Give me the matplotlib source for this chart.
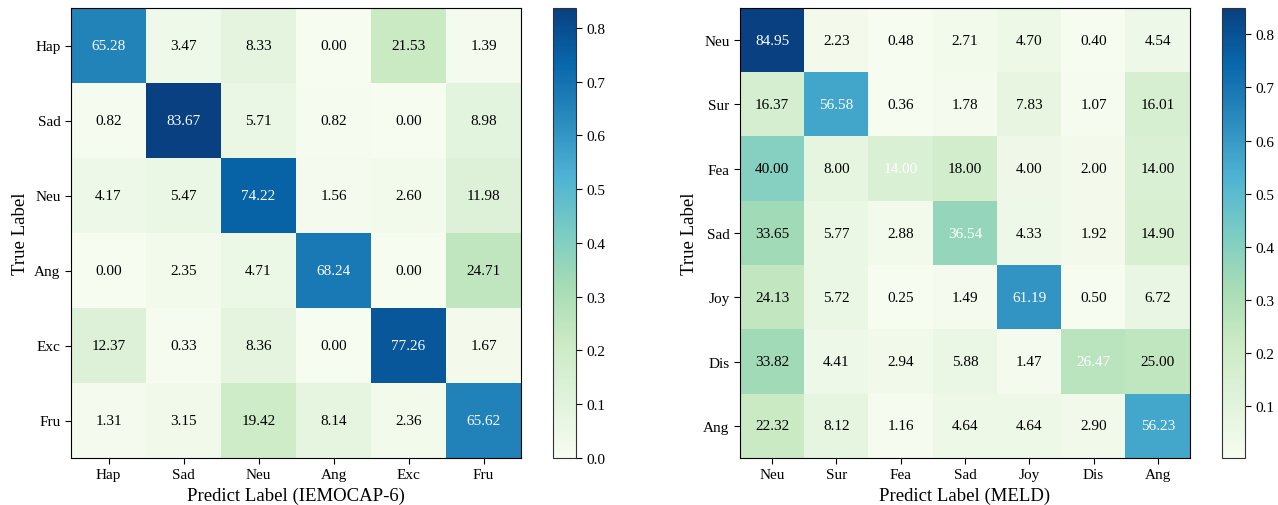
import matplotlib
matplotlib.use("Agg")
import matplotlib.pyplot as plt
import numpy as np

plt.rcParams['font.family'] = ['Liberation Serif', 'DejaVu Serif']

iemo_labels = ["Hap", "Sad", "Neu", "Ang", "Exc", "Fru"]
iemo_vals = [
    [65.28, 3.47, 8.33, 0.00, 21.53, 1.39],
    [0.82, 83.67, 5.71, 0.82, 0.00, 8.98],
    [4.17, 5.47, 74.22, 1.56, 2.60, 11.98],
    [0.00, 2.35, 4.71, 68.24, 0.00, 24.71],
    [12.37, 0.33, 8.36, 0.00, 77.26, 1.67],
    [1.31, 3.15, 19.42, 8.14, 2.36, 65.62],
]

meld_labels = ["Neu", "Sur", "Fea", "Sad", "Joy", "Dis", "Ang"]
meld_vals = [
    [84.95, 2.23, 0.48, 2.71, 4.70, 0.40, 4.54],
    [16.37, 56.58, 0.36, 1.78, 7.83, 1.07, 16.01],
    [40.00, 8.00, 14.00, 18.00, 4.00, 2.00, 14.00],
    [33.65, 5.77, 2.88, 36.54, 4.33, 1.92, 14.90],
    [24.13, 5.72, 0.25, 1.49, 61.19, 0.50, 6.72],
    [33.82, 4.41, 2.94, 5.88, 1.47, 26.47, 25.00],
    [22.32, 8.12, 1.16, 4.64, 4.64, 2.90, 56.23],
]

W, H = 1278, 506
fig = plt.figure(figsize=(W / 100, H / 100), dpi=100)


def px(x0, y0, x1, y1):
    return [x0 / W, 1 - y1 / H, (x1 - x0) / W, (y1 - y0) / H]


def draw(ax, cax, vals, labels, xlabel):
    m = np.array(vals) / 100.0
    im = ax.imshow(m, cmap="GnBu", aspect="auto", interpolation="nearest")
    n = len(labels)
    for i in range(n):
        for j in range(n):
            ax.text(j, i, f"{vals[i][j]:.2f}", ha="center", va="center",
                    fontsize=11, color="white" if i == j else "black")
    ax.set_xticks(range(n))
    ax.set_xticklabels(labels, fontsize=11)
    ax.set_yticks(range(n))
    ax.set_yticklabels(labels, fontsize=11)
    ax.set_xlabel(xlabel, fontsize=13.5)
    ax.set_ylabel("True Label", fontsize=13.5)
    ax.tick_params(direction="out", length=4)
    cb = fig.colorbar(im, cax=cax)
    cb.ax.tick_params(labelsize=11, length=4)
    cb.outline.set_edgecolor("#333333")
    return im


ax1 = fig.add_axes(px(71, 9, 521, 459))
cax1 = fig.add_axes(px(553, 9, 576, 459))
draw(ax1, cax1, iemo_vals, iemo_labels, "Predict Label (IEMOCAP-6)")

ax2 = fig.add_axes(px(740, 9, 1190, 459))
cax2 = fig.add_axes(px(1222, 9, 1245, 459))
draw(ax2, cax2, meld_vals, meld_labels, "Predict Label (MELD)")

fig.savefig("out.png", dpi=100)
